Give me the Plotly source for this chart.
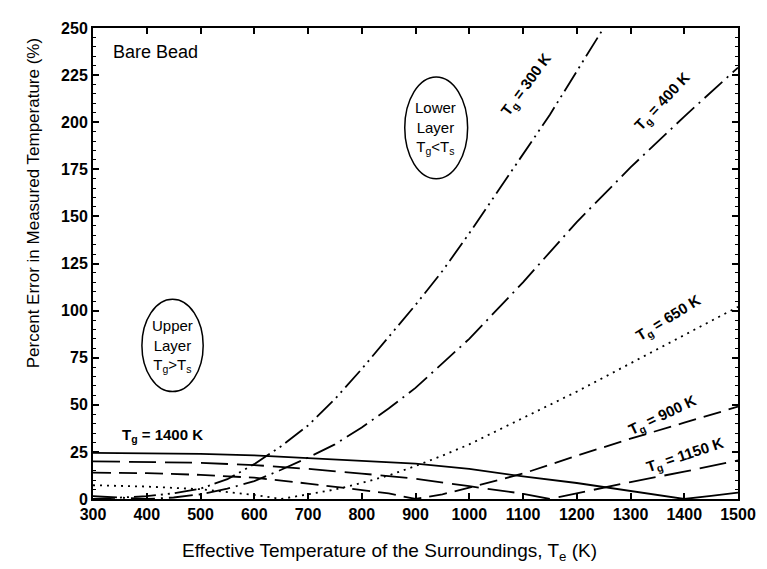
import plotly.graph_objects as go

# ---- data ----
te_300 = [300, 350, 400, 450, 500, 550, 600, 650, 700, 750, 800, 850, 900, 950, 1000, 1050, 1100, 1150, 1200, 1250]
err_300 = [0, 0.6, 1.5, 3, 5.5, 10.5, 18.5, 28, 39, 53, 69, 86, 103, 121, 141, 162, 183, 204, 227, 250]

te_400 = [300, 350, 400, 450, 500, 550, 600, 650, 700, 750, 800, 850, 900, 950, 1000, 1100, 1200, 1300, 1400, 1500]
err_400 = [1.5, 0.8, 0, 0.8, 2.5, 5.5, 9.5, 15.5, 22, 29, 38, 48, 59, 72, 85, 115, 147, 176, 203, 229]

te_650 = [300, 400, 500, 550, 600, 650, 700, 750, 800, 850, 900, 950, 1000, 1100, 1200, 1300, 1400, 1500]
err_650 = [7.3, 6.6, 5.2, 3.8, 2.2, 0, 2.5, 5, 8.5, 12.5, 17.5, 23, 29, 43, 57, 72, 87, 102]

te_900 = [300, 400, 500, 600, 700, 800, 850, 900, 950, 1000, 1100, 1200, 1300, 1400, 1500]
err_900 = [14, 13.7, 12.8, 11.3, 8.2, 5, 3, 0, 2.5, 6, 13.5, 23, 32, 40.5, 49]

te_1150 = [300, 400, 500, 600, 700, 800, 900, 1000, 1100, 1150, 1200, 1300, 1400, 1500]
err_1150 = [20, 19.8, 19.2, 18, 16, 13.5, 10.8, 6.8, 2.8, 0, 3, 9, 14.5, 20.5]

te_1400 = [300, 400, 500, 600, 700, 800, 900, 1000, 1100, 1200, 1250, 1300, 1350, 1400, 1450, 1500]
err_1400 = [24.5, 24.3, 24, 23.2, 21.8, 20.3, 18.8, 16, 12, 8.5, 6.3, 4.2, 2.1, 0, 1.7, 3.4]

x_ticks = [300, 400, 500, 600, 700, 800, 900, 1000, 1100, 1200, 1300, 1400, 1500]
y_ticks = [0, 25, 50, 75, 100, 125, 150, 175, 200, 225, 250]

FONT = "Liberation Sans, Arial, sans-serif"

series = [
    (te_300, err_300, "22px,5px,2px,5px,2px,5px"),
    (te_400, err_400, "24px,6px,2px,6px"),
    (te_650, err_650, "2px,5px"),
    (te_900, err_900, "18px,8px"),
    (te_1150, err_1150, "27px,9px"),
    (te_1400, err_1400, "solid"),
]

fig = go.Figure()
for xs, ys, dash in series:
    fig.add_trace(go.Scatter(x=xs, y=ys, mode="lines",
                             line=dict(color="black", width=1.8, dash=dash),
                             showlegend=False, hoverinfo="skip"))

axis_common = dict(showline=True, linecolor="black", linewidth=2, mirror="allticks",
                   ticks="inside", tickcolor="black", tickwidth=1.5, ticklen=6,
                   showgrid=False, zeroline=False,
                   tickfont=dict(family=FONT, size=16, color="black", weight="bold"))

# page body has an 8px margin: compensate so the plot area sits at x 93..738, y 21..499
fig.update_layout(
    width=767, height=569,
    margin=dict(l=85, r=37, t=13, b=78),
    paper_bgcolor="white", plot_bgcolor="white",
    xaxis=dict(range=[300, 1500], tickvals=x_ticks, **axis_common),
    yaxis=dict(range=[0, 250], tickvals=y_ticks,
               minor=dict(dtick=5, ticks="inside", ticklen=3, tickcolor="black", tickwidth=1.2),
               **axis_common),
)

# ellipses
fig.add_shape(type="circle", xref="x", yref="y", x0=880, x1=997, y0=170, y1=224,
              line=dict(color="black", width=1.5))
fig.add_shape(type="circle", xref="x", yref="y", x0=391, x1=505, y0=57, y1=106,
              line=dict(color="black", width=1.5))

ann = []
lab_font = dict(family=FONT, size=15, color="black", weight="bold")
ann.append(dict(x=1107, y=220, text="T<sub>g</sub> = 300 K", textangle=-53.6, font=lab_font))
ann.append(dict(x=1360, y=211, text="T<sub>g</sub> = 400 K", textangle=-46.8, font=lab_font))
ann.append(dict(x=1370, y=96, text="T<sub>g</sub> = 650 K", textangle=-31.7, font=lab_font))
ann.append(dict(x=1360, y=44.5, text="T<sub>g</sub> = 900 K", textangle=-25.5, font=lab_font))
ann.append(dict(x=1401, y=23, text="T<sub>g</sub> = 1150 K", textangle=-18.4, font=lab_font))
ann.append(dict(x=350, y=33.5, text="T<sub>g</sub> = 1400 K", xanchor="left", font=lab_font))
ann.append(dict(x=334, y=237, text="Bare Bead", xanchor="left",
                font=dict(family=FONT, size=18, color="black")))
ell_font = dict(family=FONT, size=15, color="black")
ann.append(dict(x=938, y=197, text="Lower<br>Layer<br>T<sub>g</sub>&lt;T<sub>s</sub>", font=ell_font))
ann.append(dict(x=448, y=81, text="Upper<br>Layer<br>T<sub>g</sub>&gt;T<sub>s</sub>", font=ell_font))
for a in ann:
    a.update(xref="x", yref="y", showarrow=False)

ann.append(dict(xref="paper", yref="paper", x=0.459, y=-0.113, xanchor="center", yanchor="middle",
                text="Effective Temperature of the Surroundings, T<sub>e</sub> (K)", showarrow=False,
                font=dict(family=FONT, size=19, color="black")))
ann.append(dict(xref="paper", yref="paper", x=-0.093, y=0.628, xanchor="center", yanchor="middle",
                text="Percent Error in Measured Temperature (%)", textangle=-90, showarrow=False,
                font=dict(family=FONT, size=17, color="black")))
fig.update_layout(annotations=ann)

fig.write_html("out.html")
